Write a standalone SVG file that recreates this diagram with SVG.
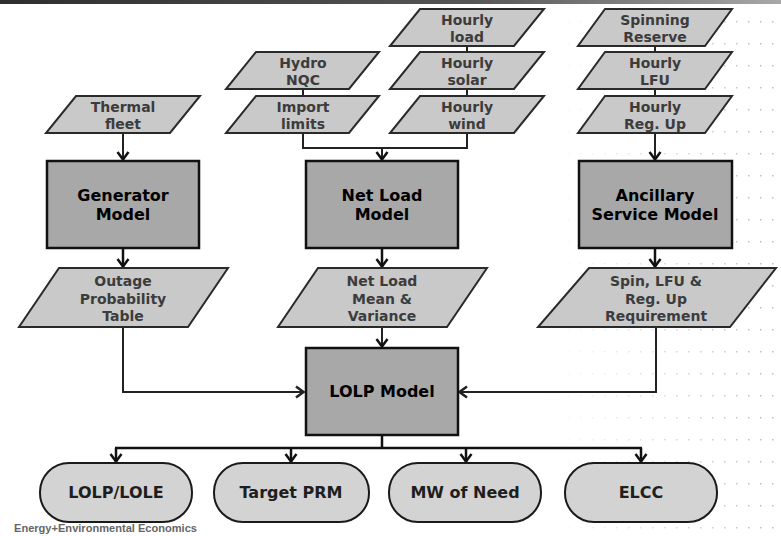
<svg xmlns="http://www.w3.org/2000/svg" width="781" height="536" viewBox="0 0 781 536">
  <defs>
    <style>
      .box { fill: #a8a8a8; stroke: #111; stroke-width: 2.5; }
      .data { fill: #c9c9c9; stroke: #2a2a2a; stroke-width: 2; }
      .out { fill: #d3d3d3; stroke: #1a1a1a; stroke-width: 2; }
      .btxt { font-family: "DejaVu Sans", Verdana, sans-serif; font-weight: bold; font-size: 16px; fill: #000; text-anchor: middle; }
      .dtxt { font-family: "DejaVu Sans", Verdana, sans-serif; font-weight: bold; font-size: 14px; fill: #3c3c3c; text-anchor: middle; }
      .otxt { font-family: "DejaVu Sans", Verdana, sans-serif; font-weight: bold; font-size: 16px; fill: #1e1e1e; text-anchor: middle; }
      .link { fill: none; stroke: #222; stroke-width: 2; }
      .bus { fill: none; stroke: #111; stroke-width: 2.5; }
    </style>
    <!-- open chevron heads: down, right, left -->
    <marker id="head" viewBox="0 0 14 11" refX="7" refY="10" markerWidth="14" markerHeight="11" markerUnits="userSpaceOnUse" orient="0">
      <path d="M1.5,2 L7,9.5 L12.5,2" fill="none" stroke="#111" stroke-width="2.5"/>
    </marker>
    <marker id="headR" viewBox="0 0 11 14" refX="10" refY="7" markerWidth="11" markerHeight="14" markerUnits="userSpaceOnUse" orient="0">
      <path d="M2,1.5 L9.5,7 L2,12.5" fill="none" stroke="#222" stroke-width="2.5"/>
    </marker>
    <marker id="headL" viewBox="0 0 11 14" refX="1" refY="7" markerWidth="11" markerHeight="14" markerUnits="userSpaceOnUse" orient="0">
      <path d="M9,1.5 L1.5,7 L9,12.5" fill="none" stroke="#222" stroke-width="2.5"/>
    </marker>
    <linearGradient id="topbar" x1="0" y1="0" x2="1" y2="0">
      <stop offset="0" stop-color="#2e2e2e"/>
      <stop offset="0.6" stop-color="#555"/>
      <stop offset="1" stop-color="#a8a8a8"/>
    </linearGradient>
    <pattern id="dots" x="0" y="-1" width="12" height="22" patternUnits="userSpaceOnUse">
      <rect x="4" y="0" width="1.5" height="1.5" fill="#bdbdbd"/>
    </pattern>
    <linearGradient id="fade" x1="540" y1="0" x2="760" y2="0" gradientUnits="userSpaceOnUse">
      <stop offset="0" stop-color="#fff" stop-opacity="0"/>
      <stop offset="1" stop-color="#fff" stop-opacity="1"/>
    </linearGradient>
    <mask id="dotmask">
      <rect x="540" y="8" width="241" height="528" fill="url(#fade)"/>
    </mask>
  </defs>

  <rect width="781" height="536" fill="#fff"/>
  <rect x="0" y="0" width="781" height="4" fill="url(#topbar)"/>
  <rect x="540" y="8" width="241" height="528" fill="url(#dots)" mask="url(#dotmask)"/>

  <!-- connectors -->
  <g id="connectors">
    <line class="link" x1="303" y1="89" x2="303" y2="95"/>
    <line class="link" x1="467" y1="46" x2="467" y2="52"/>
    <line class="link" x1="467" y1="89" x2="467" y2="96"/>
    <line class="link" x1="655" y1="46" x2="655" y2="52"/>
    <line class="link" x1="655" y1="89" x2="655" y2="96"/>
    <polyline class="link" points="303,133 303,148 467,148 467,133"/>
    <line class="link" x1="382" y1="148" x2="382" y2="160" marker-end="url(#head)"/>
    <line class="link" x1="123" y1="133" x2="123" y2="160" marker-end="url(#head)"/>
    <line class="link" x1="655" y1="133" x2="655" y2="160" marker-end="url(#head)"/>
    <line class="bus" x1="123" y1="248" x2="123" y2="267" marker-end="url(#head)"/>
    <line class="bus" x1="382" y1="248" x2="382" y2="267" marker-end="url(#head)"/>
    <line class="bus" x1="655" y1="248" x2="655" y2="267" marker-end="url(#head)"/>
    <line class="link" x1="382" y1="327" x2="382" y2="347" marker-end="url(#head)"/>
    <polyline class="link" points="123,327 123,392 304,392" marker-end="url(#headR)"/>
    <polyline class="link" points="656,327 656,392 459,392" marker-end="url(#headL)"/>
    <polyline class="bus" points="382,435 382,448"/>
    <line class="bus" x1="115" y1="448" x2="642" y2="448"/>
    <line class="bus" x1="116" y1="448" x2="116" y2="462" marker-end="url(#head)"/>
    <line class="bus" x1="291" y1="448" x2="291" y2="462" marker-end="url(#head)"/>
    <line class="bus" x1="466" y1="448" x2="466" y2="462" marker-end="url(#head)"/>
    <line class="bus" x1="641" y1="448" x2="641" y2="462" marker-end="url(#head)"/>
  </g>

  <!-- inputs -->
  <g id="thermal-fleet">
    <polygon class="data" points="76,96 200,96 170,133 46,133"/>
    <text class="dtxt" x="123" y="112">Thermal</text>
    <text class="dtxt" x="123" y="129">fleet</text>
  </g>
  <g id="hydro-nqc">
    <polygon class="data" points="256,52 379,52 349,89 226,89"/>
    <text class="dtxt" x="303" y="68">Hydro</text>
    <text class="dtxt" x="303" y="85">NQC</text>
  </g>
  <g id="import-limits">
    <polygon class="data" points="256,96 379,96 349,133 226,133"/>
    <text class="dtxt" x="303" y="112">Import</text>
    <text class="dtxt" x="303" y="129">limits</text>
  </g>
  <g id="hourly-load">
    <polygon class="data" points="420,9 544,9 514,46 390,46"/>
    <text class="dtxt" x="467" y="25">Hourly</text>
    <text class="dtxt" x="467" y="42">load</text>
  </g>
  <g id="hourly-solar">
    <polygon class="data" points="420,52 544,52 514,89 390,89"/>
    <text class="dtxt" x="467" y="68">Hourly</text>
    <text class="dtxt" x="467" y="85">solar</text>
  </g>
  <g id="hourly-wind">
    <polygon class="data" points="420,96 544,96 514,133 390,133"/>
    <text class="dtxt" x="467" y="112">Hourly</text>
    <text class="dtxt" x="467" y="129">wind</text>
  </g>
  <g id="spinning-reserve">
    <polygon class="data" points="605,9 732,9 705,46 578,46"/>
    <text class="dtxt" x="655" y="25">Spinning</text>
    <text class="dtxt" x="655" y="42">Reserve</text>
  </g>
  <g id="hourly-lfu">
    <polygon class="data" points="605,52 732,52 705,89 578,89"/>
    <text class="dtxt" x="655" y="68">Hourly</text>
    <text class="dtxt" x="655" y="85">LFU</text>
  </g>
  <g id="hourly-reg-up">
    <polygon class="data" points="605,96 732,96 705,133 578,133"/>
    <text class="dtxt" x="655" y="112">Hourly</text>
    <text class="dtxt" x="655" y="129">Reg. Up</text>
  </g>

  <!-- models -->
  <g id="generator-model">
    <rect class="box" x="47" y="161" width="152" height="87"/>
    <text class="btxt" x="123" y="201">Generator</text>
    <text class="btxt" x="123" y="220">Model</text>
  </g>
  <g id="net-load-model">
    <rect class="box" x="306" y="161" width="152" height="87"/>
    <text class="btxt" x="382" y="201">Net Load</text>
    <text class="btxt" x="382" y="220">Model</text>
  </g>
  <g id="ancillary-service-model">
    <rect class="box" x="579" y="161" width="153" height="87"/>
    <text class="btxt" x="655" y="201">Ancillary</text>
    <text class="btxt" x="655" y="220">Service Model</text>
  </g>

  <!-- intermediate results -->
  <g id="outage-probability-table">
    <polygon class="data" points="59,268 228,268 188,327 19,327"/>
    <text class="dtxt" x="123" y="286">Outage</text>
    <text class="dtxt" x="123" y="303.5">Probability</text>
    <text class="dtxt" x="123" y="321">Table</text>
  </g>
  <g id="net-load-mean-variance">
    <polygon class="data" points="318,268 487,268 447,327 278,327"/>
    <text class="dtxt" x="382" y="286">Net Load</text>
    <text class="dtxt" x="382" y="303.5">Mean &amp;</text>
    <text class="dtxt" x="382" y="321">Variance</text>
  </g>
  <g id="reserve-requirement">
    <polygon class="data" points="589,268 776,268 730,327 538,327"/>
    <text class="dtxt" x="656" y="286">Spin, LFU &amp;</text>
    <text class="dtxt" x="656" y="303.5">Reg. Up</text>
    <text class="dtxt" x="656" y="321">Requirement</text>
  </g>

  <g id="lolp-model">
    <rect class="box" x="306" y="348" width="152" height="87"/>
    <text class="btxt" x="382" y="397">LOLP Model</text>
  </g>

  <!-- outputs -->
  <g id="lolp-lole">
    <rect class="out" x="40" y="463" width="152" height="59" rx="29" ry="29"/>
    <text class="otxt" x="116" y="498">LOLP/LOLE</text>
  </g>
  <g id="target-prm">
    <rect class="out" x="214" y="463" width="155" height="59" rx="29" ry="29"/>
    <text class="otxt" x="291" y="498">Target PRM</text>
  </g>
  <g id="mw-of-need">
    <rect class="out" x="389" y="463" width="152" height="59" rx="29" ry="29"/>
    <text class="otxt" x="465" y="498">MW of Need</text>
  </g>
  <g id="elcc">
    <rect class="out" x="565" y="463" width="152" height="59" rx="29" ry="29"/>
    <text class="otxt" x="641" y="498">ELCC</text>
  </g>

  <text x="14" y="532" font-family="Liberation Sans, Arial, sans-serif" font-weight="bold" font-size="11" fill="#666" textLength="183" lengthAdjust="spacingAndGlyphs">Energy+Environmental Economics</text>
</svg>
